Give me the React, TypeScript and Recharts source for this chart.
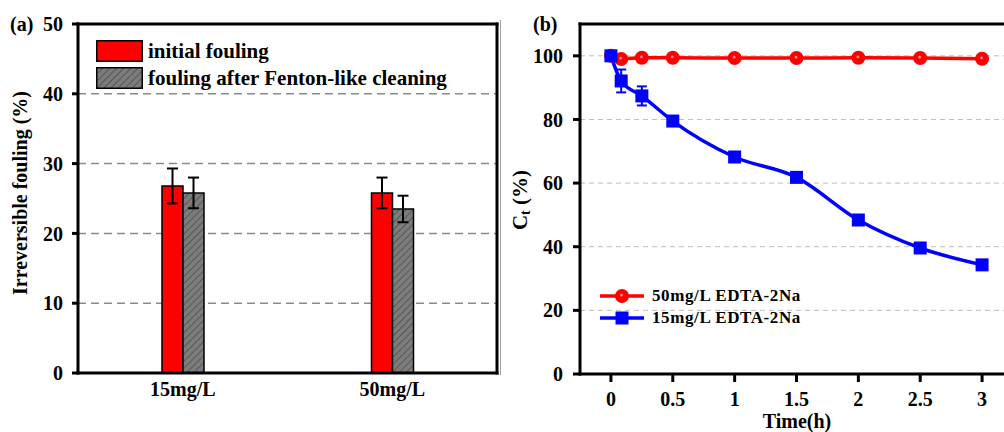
import React from 'react';
import {
  BarChart,
  Bar,
  XAxis,
  YAxis,
  CartesianGrid,
  ErrorBar,
  Legend,
  LineChart,
  Line,
  Label,
} from 'recharts';

// (a) irreversible fouling per EDTA-2Na concentration
const concentrations = ['15mg/L', '50mg/L'];
const initialFouling = [26.8, 25.8];
const initialFoulingErr = [2.5, 2.2];
const cleanedFouling = [25.8, 23.5];
const cleanedFoulingErr = [2.2, 1.9];
const foulingTicks = [0, 10, 20, 30, 40, 50];

// (b) residual concentration over time
const timeH = [0, 0.083, 0.25, 0.5, 1, 1.5, 2, 2.5, 3];
const ct50 = [100, 99.0, 99.4, 99.4, 99.3, 99.3, 99.4, 99.3, 99.1];
const ct15 = [100, 92.1, 87.4, 79.5, 68.2, 61.8, 48.4, 39.6, 34.3];
const ct15Err = [0, 3.6, 3.0, 1.2, 0, 0, 0, 0, 0];
const timeTicks = [0, 0.5, 1, 1.5, 2, 2.5, 3];
const ctTicks = [0, 20, 40, 60, 80, 100];

const FONT = "'Liberation Serif', 'Times New Roman', serif";
const RED = '#ff0000';
const BLUE = '#0000ff';

const barData = concentrations.map((c, i) => ({
  conc: c,
  initial: initialFouling[i],
  initialErr: initialFoulingErr[i],
  cleaned: cleanedFouling[i],
  cleanedErr: cleanedFoulingErr[i],
}));

const lineData = timeH.map((t, i) => ({
  t,
  c50: ct50[i],
  c15: ct15[i],
  err15: ct15Err[i],
}));

const axisStroke = { stroke: '#000', strokeWidth: 3, strokeLinecap: 'square' as const };
const tickFont = (size: number) => ({
  fill: '#000',
  fontSize: size,
  fontWeight: 'bold' as const,
  fontFamily: FONT,
});

const RedDot = (props: any) => {
  const { cx, cy } = props;
  if (cx == null || cy == null) return null;
  return (
    <g>
      <circle cx={cx} cy={cy} r={7} fill={RED} />
      <circle cx={cx - 0.5} cy={cy - 0.8} r={1.4} fill="#ff8c8c" />
    </g>
  );
};

const BlueSquare = (props: any) => {
  const { cx, cy } = props;
  if (cx == null || cy == null) return null;
  return <rect x={cx - 6.5} y={cy - 6.5} width={13} height={13} fill={BLUE} />;
};

const FoulingLegend = () => (
  <div style={{ fontFamily: FONT, fontWeight: 'bold', fontSize: 21, color: '#000' }}>
    <div style={{ display: 'flex', alignItems: 'center', height: 22, marginBottom: 5 }}>
      <svg width={47} height={22} style={{ display: 'block' }}>
        <rect x={0.75} y={0.75} width={45.5} height={20.5} fill={RED} stroke="#000" strokeWidth={1.5} />
      </svg>
      <span style={{ marginLeft: 5, lineHeight: '22px', whiteSpace: 'nowrap' }}>initial fouling</span>
    </div>
    <div style={{ display: 'flex', alignItems: 'center', height: 22 }}>
      <svg width={47} height={22} style={{ display: 'block' }}>
        <defs>
          <pattern id="hatchLegend" patternUnits="userSpaceOnUse" width={5} height={5} patternTransform="rotate(45)">
            <rect width={5} height={5} fill="#7c7c7c" />
            <line x1={0} y1={0} x2={0} y2={5} stroke="#333" strokeWidth={1} />
          </pattern>
        </defs>
        <rect x={0.75} y={0.75} width={45.5} height={20.5} fill="url(#hatchLegend)" stroke="#000" strokeWidth={1.5} />
      </svg>
      <span style={{ marginLeft: 5, lineHeight: '22px', whiteSpace: 'nowrap' }}>
        fouling after Fenton-like cleaning
      </span>
    </div>
  </div>
);

const CtLegend = () => (
  <div style={{ fontFamily: FONT, fontWeight: 'bold', fontSize: 17, letterSpacing: 0.6, color: '#000' }}>
    <div style={{ display: 'flex', alignItems: 'center', height: 22 }}>
      <svg width={44} height={16} style={{ display: 'block' }}>
        <line x1={0} y1={8} x2={44} y2={8} stroke={RED} strokeWidth={3.5} />
        <RedDot cx={22} cy={8} />
      </svg>
      <span style={{ marginLeft: 8, whiteSpace: 'nowrap' }}>50mg/L EDTA-2Na</span>
    </div>
    <div style={{ display: 'flex', alignItems: 'center', height: 22 }}>
      <svg width={44} height={16} style={{ display: 'block' }}>
        <line x1={0} y1={8} x2={44} y2={8} stroke={BLUE} strokeWidth={3.5} />
        <BlueSquare cx={22} cy={8} />
      </svg>
      <span style={{ marginLeft: 8, whiteSpace: 'nowrap' }}>15mg/L EDTA-2Na</span>
    </div>
  </div>
);

function FoulingPanel() {
  return (
    <BarChart
      width={520}
      height={432}
      data={barData}
      margin={{ top: 23, right: 22, bottom: 0, left: 0 }}
      barSize={21}
      barGap={0}
    >
      <defs>
        <pattern id="hatch" patternUnits="userSpaceOnUse" width={5} height={5} patternTransform="rotate(45)">
          <rect width={5} height={5} fill="#7c7c7c" />
          <line x1={0} y1={0} x2={0} y2={5} stroke="#333" strokeWidth={1} />
        </pattern>
      </defs>
      <CartesianGrid vertical={false} stroke="#8a8a8a" strokeWidth={1.5} strokeDasharray="8 5" />
      <XAxis
        dataKey="conc"
        height={59}
        axisLine={axisStroke}
        tickLine={false}
        tickSize={0}
        tickMargin={9}
        tick={tickFont(20)}
      />
      <XAxis xAxisId="top" orientation="top" height={1} axisLine={axisStroke} tick={false} tickLine={false} />
      <YAxis
        domain={[0, 50]}
        ticks={foulingTicks}
        width={78}
        axisLine={axisStroke}
        tickLine={{ stroke: '#000', strokeWidth: 3 }}
        tickSize={6}
        tickMargin={9}
        tick={tickFont(20)}
        interval={0}
      >
        <Label
          content={() => (
            <g fontFamily={FONT} fontWeight="bold" fill="#000">
              <text x={10} y={31} fontSize={20}>(a)</text>
              <text
                x={20}
                y={193}
                fontSize={20}
                textAnchor="middle"
                dominantBaseline="central"
                transform="rotate(-90, 20, 193)"
              >
                Irreversible fouling  (%)
              </text>
            </g>
          )}
        />
      </YAxis>
      <YAxis yAxisId="right" orientation="right" width={1} axisLine={axisStroke} tick={false} tickLine={false} />
      <Legend
        layout="vertical"
        align="center"
        verticalAlign="middle"
        wrapperStyle={{ left: 96, top: 40, width: 'auto' }}
        content={() => <FoulingLegend />}
      />
      <Bar dataKey="initial" fill={RED} stroke="#000" strokeWidth={1.5} isAnimationActive={false}>
        <ErrorBar dataKey="initialErr" width={5.5} stroke="#000" strokeWidth={2} />
      </Bar>
      <Bar dataKey="cleaned" fill="url(#hatch)" stroke="#000" strokeWidth={1.5} isAnimationActive={false}>
        <ErrorBar dataKey="cleanedErr" width={5.5} stroke="#000" strokeWidth={2} />
      </Bar>
    </BarChart>
  );
}

function CtPanel() {
  return (
    <LineChart
      width={520}
      height={432}
      data={lineData}
      margin={{ top: 23, right: 7, bottom: 0, left: 0 }}
    >
      <CartesianGrid vertical={false} stroke="#bdbdbd" strokeWidth={1} strokeDasharray="5 4" />
      <XAxis
        dataKey="t"
        type="number"
        domain={[-0.25, 3.25]}
        ticks={timeTicks}
        allowDataOverflow
        interval={0}
        height={58}
        axisLine={axisStroke}
        tickLine={{ stroke: '#000', strokeWidth: 3 }}
        tickSize={8}
        tickMargin={10}
        tick={tickFont(20)}
      >
        <Label
          content={() => (
            <text x={297} y={428} textAnchor="middle" fontFamily={FONT} fontWeight="bold" fontSize={20} fill="#000">
              Time(h)
            </text>
          )}
        />
      </XAxis>
      <XAxis xAxisId="top" orientation="top" height={1} axisLine={axisStroke} tick={false} tickLine={false} />
      <YAxis
        domain={[0, 110]}
        ticks={ctTicks}
        allowDataOverflow
        interval={0}
        width={80}
        axisLine={axisStroke}
        tickLine={{ stroke: '#000', strokeWidth: 3 }}
        tickSize={7}
        tickMargin={10}
        tick={tickFont(20)}
      >
        <Label
          content={() => (
            <g fontFamily={FONT} fontWeight="bold" fill="#000">
              <text x={33} y={31} fontSize={20}>(b)</text>
              <text
                x={20}
                y={200}
                fontSize={21}
                textAnchor="middle"
                dominantBaseline="central"
                transform="rotate(-90, 20, 200)"
              >
                C<tspan fontSize={14} dy={5}>t</tspan>
                <tspan dy={-5}> (%)</tspan>
              </text>
            </g>
          )}
        />
      </YAxis>
      <Legend
        layout="vertical"
        align="center"
        verticalAlign="middle"
        wrapperStyle={{ left: 100, top: 285, width: 'auto' }}
        content={() => <CtLegend />}
      />
      <Line
        dataKey="c50"
        type="monotone"
        stroke={RED}
        strokeWidth={3.5}
        dot={<RedDot />}
        activeDot={false}
        isAnimationActive={false}
      />
      <Line
        dataKey="c15"
        type="monotone"
        stroke={BLUE}
        strokeWidth={3.5}
        dot={<BlueSquare />}
        activeDot={false}
        isAnimationActive={false}
      >
        <ErrorBar dataKey="err15" direction="y" width={5} stroke={BLUE} strokeWidth={2} />
      </Line>
    </LineChart>
  );
}

export default function App() {
  return (
    <div
      style={{
        position: 'absolute',
        left: 0,
        top: 0,
        width: 1004,
        height: 432,
        overflow: 'hidden',
        background: '#fff',
      }}
    >
      <div style={{ position: 'absolute', left: 0, top: 0 }}>
        <FoulingPanel />
      </div>
      <div style={{ position: 'absolute', left: 500, top: 20, width: 1, height: 355, background: '#a0a0a0' }} />
      <div style={{ position: 'absolute', left: 500, top: 0 }}>
        <CtPanel />
      </div>
    </div>
  );
}
